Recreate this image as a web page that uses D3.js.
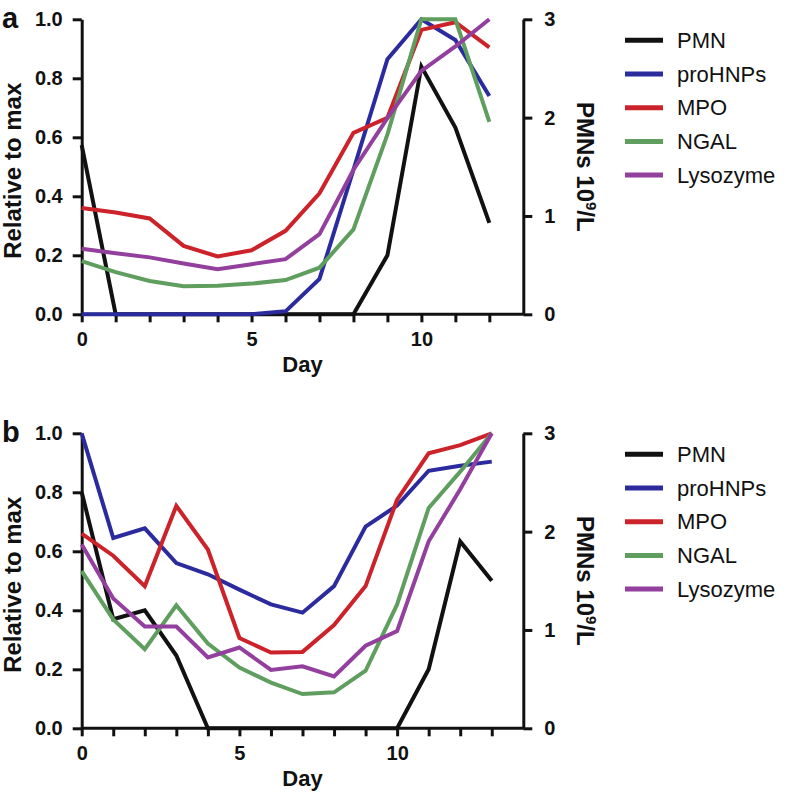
<!DOCTYPE html>
<html>
<head>
<meta charset="utf-8">
<script src="https://cdn.jsdelivr.net/npm/d3@7"></script>
<style>
  body { margin: 0; background: #fff; }
  svg { display: block; font-family: "Liberation Sans", Arial, sans-serif; }
</style>
</head>
<body>
<svg width="785" height="799"></svg>
<script>
// series names, in legend (and drawing) order
const series = ["PMN", "proHNPs", "MPO", "NGAL", "Lysozyme"];
const colors = ["#111111", "#2b2b9e", "#cc2229", "#5f9e5f", "#923f9d"];

// panel a: days 0..12
const days_a = d3.range(0, 13);
const pmn_a = [1.72, 0, 0, 0, 0, 0, 0, 0, 0, 0.6, 2.52, 1.9, 0.93];   // 10^9/L, right axis
const prohnps_a = [0, 0, 0, 0, 0, 0, 0.01, 0.12, 0.49, 0.865, 1.0, 0.93, 0.74];
const mpo_a = [0.36, 0.345, 0.325, 0.232, 0.196, 0.217, 0.283, 0.41, 0.615, 0.666, 0.964, 0.99, 0.905];
const ngal_a = [0.18, 0.143, 0.113, 0.095, 0.097, 0.104, 0.116, 0.158, 0.288, 0.61, 1.0, 1.0, 0.652];
const lyso_a = [0.222, 0.207, 0.193, 0.172, 0.153, 0.17, 0.187, 0.272, 0.49, 0.665, 0.825, 0.908, 1.0];

// panel b: days 0..13
const days_b = d3.range(0, 14);
const pmn_b = [2.4, 1.11, 1.2, 0.74, 0, 0, 0, 0, 0, 0, 0, 0.6, 1.9, 1.5];
const prohnps_b = [1.0, 0.645, 0.678, 0.56, 0.522, 0.47, 0.42, 0.392, 0.482, 0.684, 0.755, 0.873, 0.89, 0.904];
const mpo_b = [0.66, 0.585, 0.482, 0.754, 0.606, 0.306, 0.257, 0.259, 0.35, 0.482, 0.775, 0.932, 0.96, 1.0];
const ngal_b = [0.533, 0.369, 0.268, 0.417, 0.287, 0.206, 0.155, 0.116, 0.122, 0.195, 0.42, 0.747, 0.87, 1.0];
const lyso_b = [0.623, 0.44, 0.345, 0.345, 0.24, 0.274, 0.198, 0.21, 0.176, 0.28, 0.33, 0.634, 0.81, 1.0];

const leftTicks = [0, 0.2, 0.4, 0.6, 0.8, 1.0];
const rightTicks = [0, 1, 2, 3];
const dayLabels = [0, 5, 10];

const svg = d3.select("svg");

function drawPanel(letter, top, days, xMax, pmn, rel) {
    const left = 81.7, right = 523.3, bottom = top + 295;
    const x = d3.scaleLinear().domain([0, xMax]).range([left, right]);
    const y = d3.scaleLinear().domain([0, 1]).range([bottom, top]);
    const y2 = d3.scaleLinear().domain([0, 3]).range([bottom, top]);
    const g = svg.append("g");

    // x axis: a tick on every day, labels every 5
    const xa = g.append("g")
        .attr("transform", `translate(0,${bottom})`)
        .call(d3.axisBottom(x).tickValues(days).tickSize(8).tickPadding(10)
            .tickFormat(d => dayLabels.includes(d) ? d : "").tickSizeOuter(0));
    xa.select(".domain").attr("d", `M${left},0H${right}`);

    const ya = g.append("g")
        .attr("transform", `translate(${left},0)`)
        .call(d3.axisLeft(y).tickValues(leftTicks).tickFormat(d3.format(".1f"))
            .tickSize(9).tickPadding(10).tickSizeOuter(0));

    const yb = g.append("g")
        .attr("transform", `translate(${right},0)`)
        .call(d3.axisRight(y2).tickValues(rightTicks).tickFormat(d3.format("d"))
            .tickSize(9).tickPadding(12).tickSizeOuter(0));

    [xa, ya, yb].forEach(a => {
        a.selectAll("path, line").attr("stroke", "#111").attr("stroke-width", 3);
        a.selectAll("text").attr("font-size", 20).attr("font-weight", "bold")
            .attr("fill", "#111").attr("font-family", "Liberation Sans, Arial, sans-serif");
    });

    // lines
    const allVals = [pmn].concat(rel);
    allVals.forEach((vals, i) => {
        const sy = i === 0 ? y2 : y;
        const line = d3.line().x((d, j) => x(days[j])).y(d => sy(d));
        g.append("path")
            .datum(vals)
            .attr("d", line)
            .attr("fill", "none")
            .attr("stroke", colors[i])
            .attr("stroke-width", 4)
            .attr("stroke-linejoin", "miter");
    });

    // axis titles
    g.append("text")
        .attr("transform", `translate(21,${(top + bottom) / 2 + 4}) rotate(-90)`)
        .attr("text-anchor", "middle")
        .attr("font-size", 24).attr("font-weight", "bold").attr("fill", "#111")
        .text("Relative to max");

    const rt = g.append("text")
        .attr("transform", `translate(577,${(top + bottom) / 2}) rotate(90)`)
        .attr("text-anchor", "middle")
        .attr("font-size", 24).attr("font-weight", "bold").attr("fill", "#111");
    rt.append("tspan").text("PMNs 10");
    rt.append("tspan").attr("font-size", 15).attr("dy", -9).text("9");
    rt.append("tspan").attr("dy", 9).text("/L");

    g.append("text")
        .attr("x", (left + right) / 2)
        .attr("y", bottom + 58)
        .attr("text-anchor", "middle")
        .attr("font-size", 22).attr("font-weight", "bold").attr("fill", "#111")
        .text("Day");

    g.append("text")
        .attr("x", 2).attr("y", top + 9)
        .attr("font-size", 29).attr("font-weight", "bold").attr("fill", "#111")
        .text(letter);

    // legend
    const lg = g.append("g").attr("transform", `translate(625,${top + 21})`);
    series.forEach((s, i) => {
        const row = lg.append("g").attr("transform", `translate(0,${i * 33.7})`);
        row.append("line").attr("x1", 0).attr("x2", 38)
            .attr("stroke", colors[i]).attr("stroke-width", 5);
        row.append("text").attr("x", 52).attr("dy", "0.35em")
            .attr("font-size", 22).attr("fill", "#111").text(s);
    });
}

drawPanel("a", 19.3, days_a, 13, pmn_a, [prohnps_a, mpo_a, ngal_a, lyso_a]);
drawPanel("b", 433.3, days_b, 14, pmn_b, [prohnps_b, mpo_b, ngal_b, lyso_b]);
</script>
</body>
</html>
